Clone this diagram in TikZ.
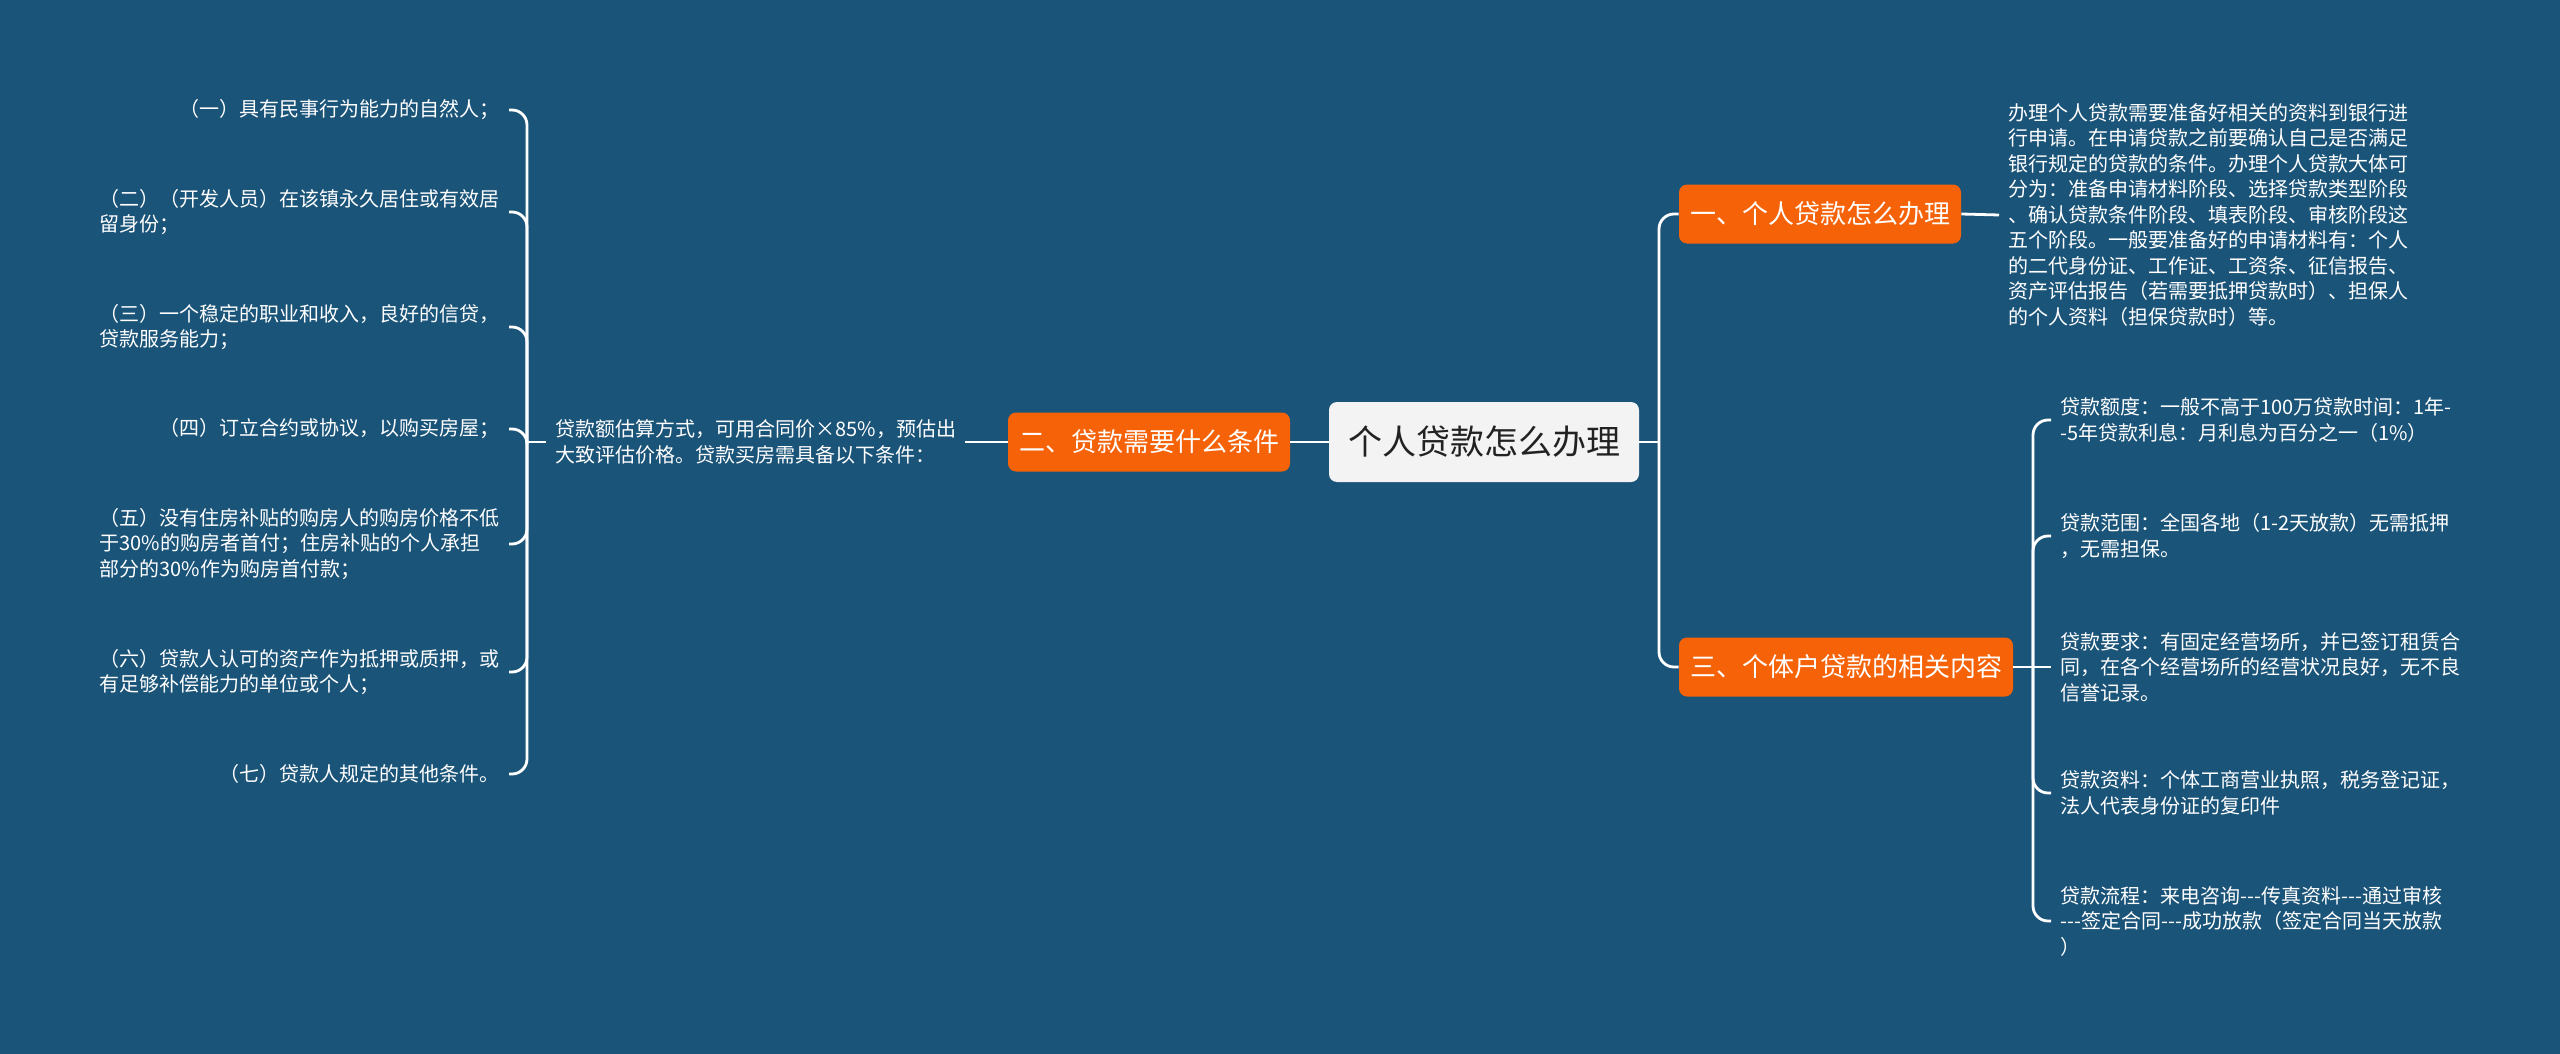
\documentclass[tikz,border=0pt]{standalone}
\usepackage{fontspec}
\setmainfont{Noto Sans CJK SC}[Ligatures=TeXOff]
\definecolor{bg}{HTML}{1B5479}
\definecolor{org}{HTML}{F56208}
\definecolor{rootfill}{HTML}{F3F3F3}
\definecolor{roottext}{HTML}{222222}
\tikzset{
  conn/.style={draw=white, line width=1.4pt, rounded corners=7.5pt},
  rootbox/.style={fill=rootfill, rounded corners=4pt, text=roottext,
    font=\fontsize{17pt}{20pt}\selectfont, inner xsep=9.5pt, minimum height=40pt},
  branch/.style={fill=org, rounded corners=4pt, text=white,
    font=\fontsize{13pt}{16pt}\selectfont, inner xsep=5.5pt, minimum height=29.5pt},
  leaf/.style={text=white, font=\fontsize{10pt}{12.75pt}\selectfont,
    align=left, inner xsep=4.5pt, inner ysep=3pt},
}
\newcommand{\tripdash}{-\kern0pt-\kern0pt-}
\begin{document}
\begin{tikzpicture}[x=0.5pt,y=-0.5pt]
\fill[bg] (0,0) rectangle (2560,1054);
\useasboundingbox (0,0) rectangle (2560,1054);

% main nodes
\node[rootbox] (root) at (1484,442) {个人贷款怎么办理};
\node[branch] (b2) at (1149,442) {二、贷款需要什么条件};
\node[branch] (b1) at (1820,214) {一、个人贷款怎么办理};
\node[branch] (b3) at (1846,667) {三、个体户贷款的相关内容};

% right top text
\node[leaf, anchor=west] (t1) at (1999,215) {办理个人贷款需要准备好相关的资料到银行进\\行申请。在申请贷款之前要确认自己是否满足\\银行规定的贷款的条件。办理个人贷款大体可\\分为：准备申请材料阶段、选择贷款类型阶段\\、确认贷款条件阶段、填表阶段、审核阶段这\\五个阶段。一般要准备好的申请材料有：个人\\的二代身份证、工作证、工资条、征信报告、\\资产评估报告（若需要抵押贷款时）、担保人\\的个人资料（担保贷款时）等。};

% left middle text
\node[leaf, anchor=west] (lt) at (546,442) {贷款额估算方式，可用合同价×85\%，预估出\\大致评估价格。贷款买房需具备以下条件：};

% left leaves
\node[leaf, anchor=east] (l1) at (509,110) {（一）具有民事行为能力的自然人；};
\node[leaf, anchor=east] (l2) at (509,212) {（二）（开发人员）在该镇永久居住或有效居\\留身份；};
\node[leaf, anchor=east] (l3) at (509,327) {（三）一个稳定的职业和收入，良好的信贷，\\贷款服务能力；};
\node[leaf, anchor=east] (l4) at (509,429) {（四）订立合约或协议，以购买房屋；};
\node[leaf, anchor=east] (l5) at (509,544) {（五）没有住房补贴的购房人的购房价格不低\\于30\%的购房者首付；住房补贴的个人承担\\部分的30\%作为购房首付款；};
\node[leaf, anchor=east] (l6) at (509,672) {（六）贷款人认可的资产作为抵押或质押，或\\有足够补偿能力的单位或个人；};
\node[leaf, anchor=east] (l7) at (509,774) {（七）贷款人规定的其他条件。};

% right children
\node[leaf, anchor=west] (c1) at (2051,420) {贷款额度：一般不高于100万贷款时间：1年-\\-5年贷款利息：月利息为百分之一（1\%）};
\node[leaf, anchor=west] (c2) at (2051,536) {贷款范围：全国各地（1-2天放款）无需抵押\\，无需担保。};
\node[leaf, anchor=west] (c3) at (2051,667) {贷款要求：有固定经营场所，并已签订租赁合\\同，在各个经营场所的经营状况良好，无不良\\信誉记录。};
\node[leaf, anchor=west] (c4) at (2051,793) {贷款资料：个体工商营业执照，税务登记证，\\法人代表身份证的复印件};
\node[leaf, anchor=west] (c5) at (2051,921) {贷款流程：来电咨询\tripdash 传真资料\tripdash 通过审核\\\tripdash 签定合同\tripdash 成功放款（签定合同当天放款\\）};

% junction coordinates
\coordinate (rs) at (1659,442);
\coordinate (lj) at (527,442);
\coordinate (rj) at (2033,667);

% connectors
\draw[conn] (root.west) -- (b2.east);
\draw[conn] (b2.west) -- (lt.east);
\draw[conn] (lt.west) -- (lj);
\foreach \n in {l1,l2,l3,l4,l5,l6,l7} \draw[conn] (lj) |- (\n.east);
\draw[conn] (root.east) -- (rs);
\draw[conn] (rs) |- (b1.west);
\draw[conn] (rs) |- (b3.west);
\draw[conn] (b1.east) -- (t1.west);
\draw[conn] (b3.east) -- (rj);
\foreach \n in {c1,c2,c4,c5} \draw[conn] (rj) |- (\n.west);
\draw[conn] (rj) -- (c3.west);
\end{tikzpicture}
\end{document}
